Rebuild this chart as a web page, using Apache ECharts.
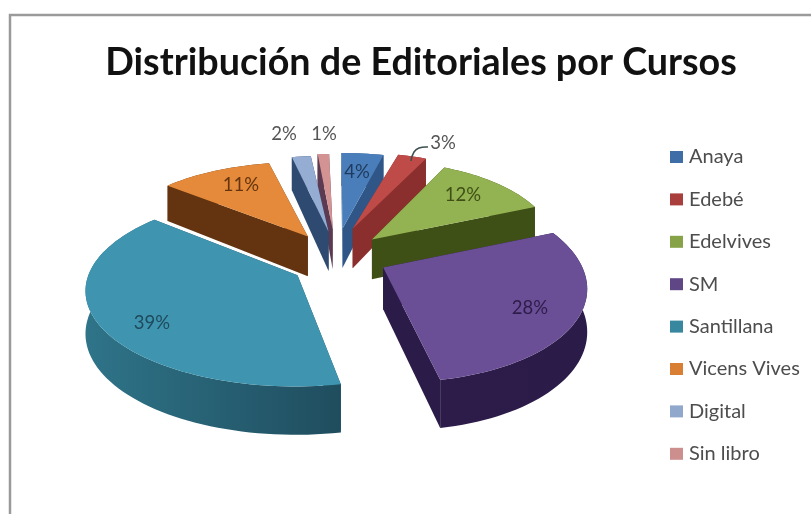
<!DOCTYPE html>
<html><head><meta charset="utf-8">
<style>html,body{margin:0;padding:0;background:#fff}#c{width:811px;height:514px}</style>
<script src="https://cdn.jsdelivr.net/npm/echarts@6/dist/echarts.min.js"></script>
</head><body><div id="c"></div>
<script>
const categories = ['Anaya','Edebé','Edelvives','SM','Santillana','Vicens Vives','Digital','Sin libro'];
const values = [4,3,12,28,39,11,2,1];
const topColors = ['#4a7ebb','#be4b48','#93b251','#6b4f96','#3f95b0','#e58a3a','#95add3','#d39392'];
const legendColors = ['#3f6ea6','#a83f3d','#86a347','#5f4685','#37879f','#d97f33','#90a8cc','#cc8f8e'];
const cutColors = ['#2f5687','#8a2f2d','#3f5016','#2b1b48','#1f4d5e','#63340f','#2f4a70','#5c3a52'];
const rimColors = [['#2f5687','#2f5687'],['#8a2f2d','#8a2f2d'],['#3f5016','#3a4a14'],['#2d1c4a','#2b1b48'],['#2f7489','#1f4d5e'],['#63340f','#5a2f0d'],['#2f4a70','#2f4a70'],['#5c3a52','#5c3a52']];
const labelColors = ['#1f3a5c','#555555','#3f5016','#2d1c4a','#1f4a5c','#63340f','#555555','#555555'];

const PIE = {cx:340, cy:254, R:190, explode:45, tilt:0.52, persp:0.16, depth:41};
// per-slice view correction, standing in for the reference's 3D camera: shift, x/y scale and shear about each slice's apex
const viewFix = [
  {dx:-3,dy:-3,sx:1.1,sy:1,shear:0},
  {dx:-2,dy:-4,sx:1,sy:1,shear:-0.13},
  {dx:0,dy:1,sx:0.99,sy:1,shear:-0.148},
  {dx:3,dy:2,sx:1.03,sy:0.97,shear:0.065},
  {dx:-3,dy:9,sx:1.08,sy:0.94,shear:0.04},
  {dx:-10,dy:2,sx:1.06,sy:0.97,shear:0.16},
  {dx:-6,dy:0,sx:1,sy:1,shear:0.12},
  {dx:-6,dy:-2,sx:1.2,sy:1,shear:0.05}
];
const rad = d => d*Math.PI/180;
function rawPoint(mid, angle, r){
  const ex = Math.sin(rad(mid))*PIE.explode, ey = -Math.cos(rad(mid))*PIE.explode;
  const X = ex + Math.sin(rad(angle))*r, Y = ey - Math.cos(rad(angle))*r;
  const s = 1 + PIE.persp*Y/PIE.R;
  return {x:PIE.cx+X*s, y:PIE.cy+Y*PIE.tilt*s, d:PIE.depth*s};
}
function pointAt(i, mid, angle, r){
  const a = rawPoint(mid,mid,0), p = rawPoint(mid,angle,r), f = viewFix[i];
  const rx = p.x-a.x, ry = p.y-a.y;
  return {x:a.x+f.dx+rx*f.sx+f.shear*ry, y:a.y+f.dy+ry*f.sy, d:p.d};
}
const total = values.reduce((a,b)=>a+b,0);
let acc = 0;
const slices = values.map((v,i)=>{
  const a0 = acc/total*360; acc += v; const a1 = acc/total*360;
  return {i, a0, a1, mid:(a0+a1)/2};
});
function arrP(p){return [p.x,p.y];}
function low(p){return [p.x,p.y+p.d];}
function sliceItem(sl){
  return function(){
    const {i,a0,a1,mid} = sl;
    const apex = pointAt(i,mid,mid,0);
    const arc = [];
    const n = Math.max(4,Math.ceil((a1-a0)/2));
    for(let k=0;k<=n;k++) arc.push(pointAt(i,mid,a0+(a1-a0)*k/n,PIE.R));
    const cut = pts=>({type:'polygon',shape:{points:pts},style:{fill:cutColors[i]},silent:true});
    const cutA = cut([arrP(apex),arrP(arc[0]),low(arc[0]),low(apex)]);
    const cutB = cut([arrP(apex),arrP(arc[n]),low(arc[n]),low(apex)]);
    const rim = {type:'polygon',shape:{points:arc.map(arrP).concat(arc.slice().reverse().map(low))},
      style:{fill:new echarts.graphic.LinearGradient(0,0,1,0,[{offset:0,color:rimColors[i][0]},{offset:1,color:rimColors[i][1]}])},silent:true};
    const top = {type:'polygon',shape:{points:[arrP(apex)].concat(arc.map(arrP))},style:{fill:topColors[i]},silent:true};
    const back = Math.cos(rad(mid))>0;
    const children = back ? [rim,cutA,cutB,top] : [cutA,cutB,rim,top];
    return {type:'group',children};
  };
}
const depthOrder = slices.slice().sort((a,b)=>Math.cos(rad(b.mid))-Math.cos(rad(a.mid)));
const series = depthOrder.map((sl,k)=>({
  type:'custom', name:categories[sl.i], coordinateSystem:'none', z:2+k*0.01,
  itemStyle:{color:legendColors[sl.i]}, data:[values[sl.i]], renderItem:sliceItem(sl), animation:false, silent:true
}));
const labelPlaces = [[357,172],[443,143],[463,195],[530,308],[152,323],[241,185],[284,134],[324,134]];
const chart = echarts.init(document.getElementById('c'),null,{renderer:'canvas'});
chart.setOption({
  animation:false,
  backgroundColor:'#ffffff',
  title:{text:'Distribución de Editoriales por Cursos',left:416,top:58,textAlign:'center',textVerticalAlign:'middle',
    textStyle:{fontFamily:'Lato',fontWeight:'bold',fontSize:37.7,color:'#111111'}},
  legend:{orient:'vertical',left:665,top:142,data:categories,icon:'rect',itemWidth:13,itemHeight:12,itemGap:22.4,selectedMode:false,
    textStyle:{fontFamily:'Lato',fontSize:20,color:'#4d4d4d',padding:[0,0,0,1]}},
  graphic:[
    {type:'rect',z:0,shape:{x:10,y:15,width:900,height:600},style:{fill:'#fff',stroke:'#9a9a9a',lineWidth:2.5},silent:true},
    {type:'polyline',z:50,shape:{points:[[411,161],[414,152],[419,148],[428,147]],smooth:0.5},style:{stroke:'#3d4f4f',lineWidth:1.5,fill:null},silent:true}
  ].concat(values.map((v,i)=>({type:'text',z:60,x:labelPlaces[i][0],y:labelPlaces[i][1],
    style:{text:v+'%',fontFamily:'Lato',fontSize:18.5,fill:labelColors[i],align:'center',verticalAlign:'middle'},silent:true}))),
  series
});
</script></body></html>
